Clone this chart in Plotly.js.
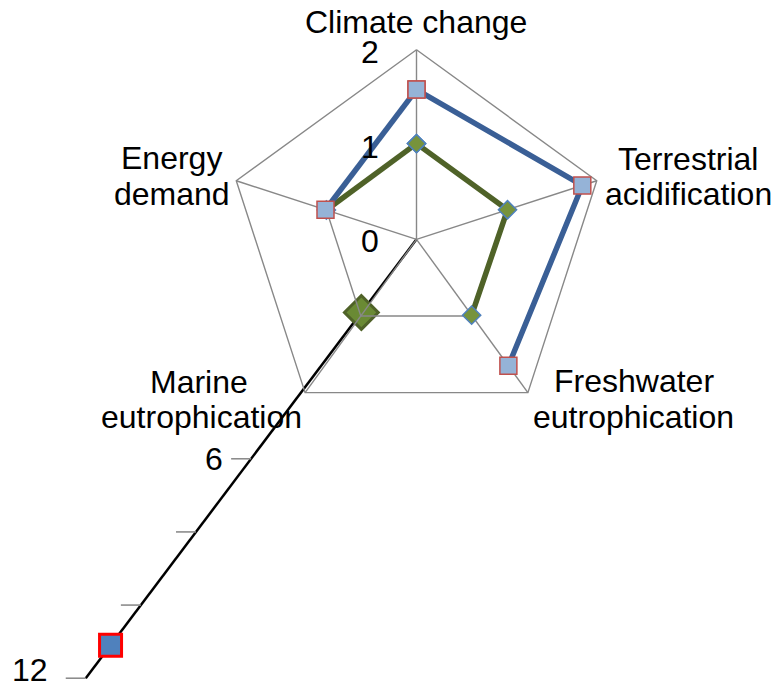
<!DOCTYPE html>
<html>
<head>
<meta charset="utf-8">
<script src="https://cdn.plot.ly/plotly-3.0.1.min.js"></script>
<style>html,body{margin:0;padding:0;background:#fff;}#chart{width:771px;height:687px;}</style>
</head>
<body>
<div id="chart"></div>
<script>
// ---- data ----
const categories = ["Climate change", "Terrestrial acidification", "Freshwater eutrophication", "Marine eutrophication", "Energy demand"];
const categoryLabels = ["Climate change", "Terrestrial\nacidification", "Freshwater\neutrophication", "Marine\neutrophication", "Energy\ndemand"];
const blueValues = [1.58, 1.84, 1.65, null, 1.01];
const greenValues = [1.01, 1.01, 0.99, null, 1.00];
const blueMarineSecondary = [11.1];
const greenMarineSecondary = [2.0];
const primaryTicks = [0, 1, 2];
const primaryTickLabels = ["0", "1", "2"];
const secondaryTicks = [6, 8, 10, 12];
const secondaryTickLabels = ["6", "", "", "12"];
const secondaryMax = 12;

// ---- layout constants (pixels) ----
const W = 771, H = 687;
const CX = 416.5, CY = 239.3;     // centre of the radar
const UNIT = 94.75;               // px per primary unit
const SEC_RATIO = 45.8 / UNIT;    // secondary unit in primary units
const SEC_ANGLE = 217;            // direction of the secondary axis (deg clockwise from top)
const TICK_LEN = 20 / UNIT;
const FONT = "Arial, 'Liberation Sans', sans-serif";

const n = categories.length;
const angleOf = i => i * 360 / n;
function polar(r, deg) {
  const t = deg * Math.PI / 180;
  return [r * Math.sin(t), r * Math.cos(t)];
}
const pxX = px => (px - CX) / UNIT;
const pxY = py => (CY - py) / UNIT;

const traces = [];

// secondary axis line and ticks
{
  const p0 = polar(0, SEC_ANGLE), p1 = polar(secondaryMax * SEC_RATIO, SEC_ANGLE);
  traces.push({x: [p0[0], p1[0]], y: [p0[1], p1[1]], mode: "lines",
    line: {color: "#000000", width: 2.5}, hoverinfo: "skip"});
  const tx = [], ty = [];
  secondaryTicks.forEach(t => {
    const p = polar(t * SEC_RATIO, SEC_ANGLE);
    tx.push(p[0] - TICK_LEN, p[0], null);
    ty.push(p[1], p[1], null);
  });
  traces.push({x: tx, y: ty, mode: "lines", line: {color: "#8C8C8C", width: 1.6}, hoverinfo: "skip"});
}

// secondary markers (Marine eutrophication)
{
  const g = greenMarineSecondary.map(v => polar(v * SEC_RATIO, SEC_ANGLE));
  traces.push({x: g.map(p => p[0]), y: g.map(p => p[1]), mode: "markers",
    marker: {symbol: "diamond", size: 26, color: "#6A8A34", line: {color: "#4F6228", width: 3}}});
  const b = blueMarineSecondary.map(v => polar(v * SEC_RATIO, SEC_ANGLE));
  traces.push({x: b.map(p => p[0]), y: b.map(p => p[1]), mode: "markers",
    marker: {symbol: "square", size: 22, color: "#4F81BD", line: {color: "#FF0000", width: 3}}});
}

// grid: pentagons and spokes
{
  const gx = [], gy = [];
  primaryTicks.filter(v => v > 0).forEach(v => {
    for (let k = 0; k <= n; k++) { const p = polar(v, angleOf(k % n)); gx.push(p[0]); gy.push(p[1]); }
    gx.push(null); gy.push(null);
  });
  const rmax = Math.max(...primaryTicks);
  for (let i = 0; i < n; i++) {
    const p = polar(rmax, angleOf(i));
    gx.push(0, p[0], null); gy.push(0, p[1], null);
  }
  traces.push({x: gx, y: gy, mode: "lines", line: {color: "#888888", width: 1.4}, hoverinfo: "skip"});
}

function seriesXY(vals) {
  const xs = [], ys = [];
  for (let k = 0; k <= n; k++) {
    const i = k % n, v = vals[i];
    if (v == null) { xs.push(null); ys.push(null); }
    else { const p = polar(v, angleOf(i)); xs.push(p[0]); ys.push(p[1]); }
  }
  return [xs, ys];
}
const G = seriesXY(greenValues), B = seriesXY(blueValues);
traces.push({x: G[0], y: G[1], mode: "lines", connectgaps: false, line: {color: "#4F6228", width: 5.5}});
traces.push({x: B[0], y: B[1], mode: "lines", connectgaps: false, line: {color: "#3A5F96", width: 5.5}});
traces.push({x: G[0], y: G[1], mode: "markers",
  marker: {symbol: "diamond", size: 14, color: "#77933C", line: {color: "#4F81BD", width: 1.5}}});
traces.push({x: B[0], y: B[1], mode: "markers",
  marker: {symbol: "square", size: 17, color: "#95B3D7", line: {color: "#C0504D", width: 1.5}}});

// ---- annotations ----
const annotations = [];
const labelFont = {family: FONT, size: 32, color: "#000000"};
// category label line centres (px)
const labelPos = [
  [[416, 22]],
  [[688, 159], [688, 194]],
  [[634, 381], [633, 417]],
  [[199, 382], [201, 417]],
  [[171, 158], [171.5, 194]]
];
categoryLabels.forEach((lab, i) => {
  lab.split("\n").forEach((line, j) => {
    const pp = labelPos[i][j];
    annotations.push({x: pxX(pp[0]), y: pxY(pp[1]), xref: "x", yref: "y", text: line,
      showarrow: false, xanchor: "center", yanchor: "middle", font: labelFont});
  });
});
// primary radial labels
primaryTicks.forEach((v, i) => {
  annotations.push({x: pxX(381), y: v, xref: "x", yref: "y", text: primaryTickLabels[i],
    showarrow: false, xanchor: "right", yanchor: "middle", yshift: -2, font: labelFont});
});
// secondary labels
secondaryTicks.forEach((t, i) => {
  if (!secondaryTickLabels[i]) return;
  const p = polar(t * SEC_RATIO, SEC_ANGLE);
  annotations.push({x: p[0] - TICK_LEN, y: p[1], xref: "x", yref: "y", text: secondaryTickLabels[i],
    showarrow: false, xanchor: "right", yanchor: "middle", xshift: (i === secondaryTicks.length - 1 ? -16 : -6),
    yshift: (i === secondaryTicks.length - 1 ? 8 : 0), font: labelFont});
});

const layout = {
  width: W, height: H,
  margin: {l: 0, r: 0, t: 0, b: 0, pad: 0},
  paper_bgcolor: "#ffffff", plot_bgcolor: "#ffffff",
  showlegend: false,
  xaxis: {range: [-CX / UNIT, (W - CX) / UNIT], visible: false, fixedrange: true},
  yaxis: {range: [-(H - CY) / UNIT, CY / UNIT], visible: false, fixedrange: true},
  annotations: annotations,
  hovermode: false
};
Plotly.newPlot("chart", traces, layout, {displayModeBar: false, staticPlot: true});
</script>
</body>
</html>
